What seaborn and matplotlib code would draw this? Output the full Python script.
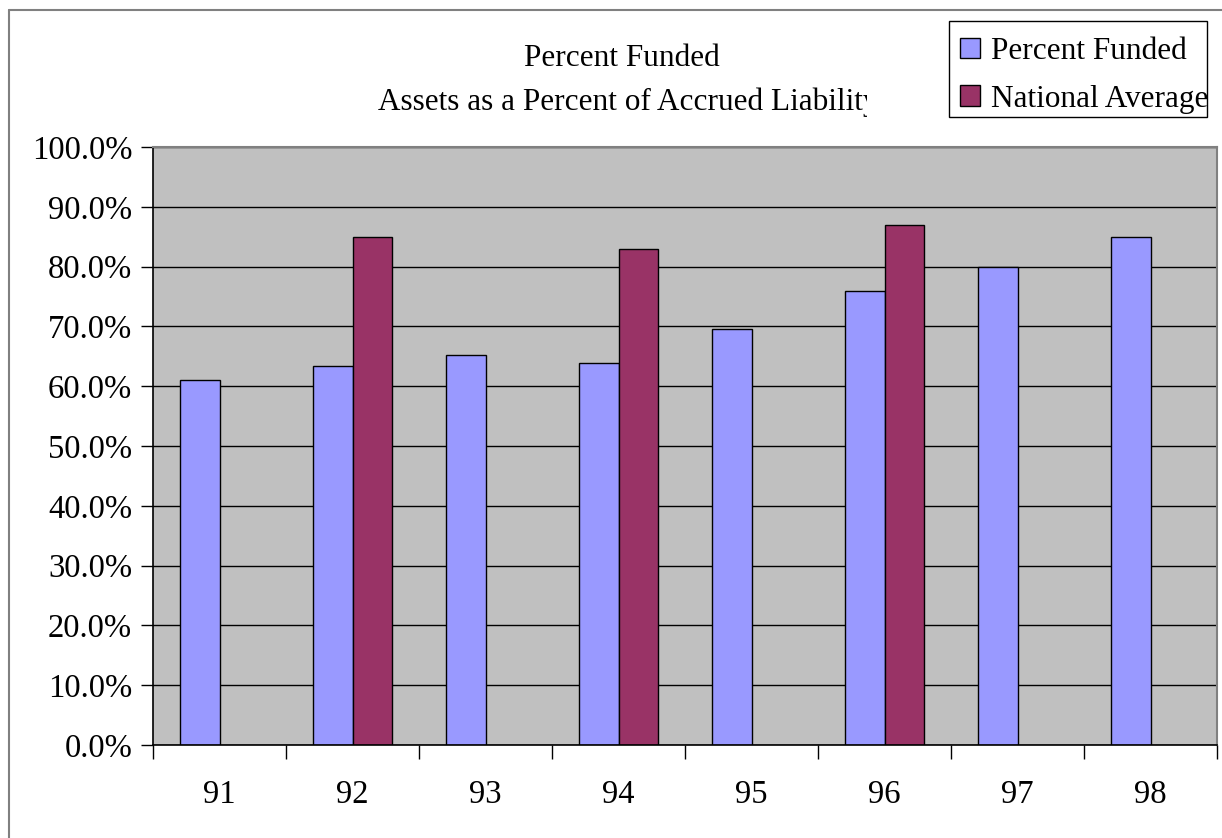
import numpy as np
import pandas as pd
import matplotlib
matplotlib.use("Agg")
import matplotlib.pyplot as plt
import seaborn as sns
from matplotlib.lines import Line2D
from matplotlib.patches import Rectangle
from matplotlib.transforms import Bbox, TransformedBbox
from matplotlib.ticker import FuncFormatter, FixedLocator

years = ["91", "92", "93", "94", "95", "96", "97", "98"]
percent_funded = [61.0, 63.3, 65.3, 63.9, 69.6, 76.0, 80.0, 85.0]
national_average = [None, 85.0, None, 83.0, None, 87.0, None, None]
series_names = ["Percent Funded", "National Average"]
colors = ["#9999FF", "#993366"]
y_ticks = [0, 10, 20, 30, 40, 50, 60, 70, 80, 90, 100]
title_line1 = "Percent Funded"
title_line2 = "Assets as a Percent of Accrued Liability"

rows = []
for y, pf, na in zip(years, percent_funded, national_average):
    rows.append({"year": y, "series": series_names[0], "value": pf})
    if na is not None:
        rows.append({"year": y, "series": series_names[1], "value": na})
df = pd.DataFrame(rows)

sns.set_style("white")
plt.rcParams["font.family"] = ["Liberation Serif", "DejaVu Serif"]
plt.rcParams["text.color"] = "black"
plt.rcParams["xtick.color"] = "black"
plt.rcParams["ytick.color"] = "black"
plt.rcParams["axes.labelcolor"] = "black"

FS = 22.5
TFS = 23.5
W, H = 1222, 838
fig = plt.figure(figsize=(W / 100, H / 100), dpi=100)
ax = fig.add_axes([153 / W, 1 - 745 / H, (1217 - 153) / W, (745 - 147) / H])

sns.barplot(data=df, x="year", y="value", hue="series", order=years,
            hue_order=series_names, palette=colors, width=0.6, dodge=True,
            edgecolor="black", linewidth=1, saturation=1, errorbar=None, ax=ax)

ax.set_facecolor("#C0C0C0")
ax.set_xlim(-0.5, len(years) - 0.5)
ax.set_ylim(0, 100)
ax.set_yticks(y_ticks)
ax.yaxis.set_major_formatter(FuncFormatter(lambda v, p: f"{v:.1f}%"))
ax.yaxis.grid(True, color="black", linewidth=1)
ax.set_axisbelow(True)
ax.set_xlabel("")
ax.set_ylabel("")

ax.tick_params(axis="y", which="major", direction="out", length=9, width=1,
               color="black", labelcolor="black", labelsize=TFS, pad=6, left=True)
ax.tick_params(axis="x", which="major", length=0, labelsize=TFS, pad=25,
               labelcolor="black")
ax.xaxis.set_minor_locator(FixedLocator(np.arange(-0.5, len(years), 1.0)))
ax.tick_params(axis="x", which="minor", direction="out", length=10, width=1,
               color="black", bottom=True)

for side in ["left", "bottom"]:
    ax.spines[side].set_color("black")
    ax.spines[side].set_linewidth(1.2)
for side in ["top", "right"]:
    ax.spines[side].set_color("#808080")
    ax.spines[side].set_linewidth(1.5)

# legend: frame drawn as a separate rectangle, entries without frame
fig.add_artist(Rectangle((949 / W, 1 - 117 / H), (1207 - 949) / W, (117 - 21) / H,
                         transform=fig.transFigure, facecolor="white",
                         edgecolor="black", linewidth=1, zorder=4))
handles, labels = ax.get_legend_handles_labels()
ax.get_legend().remove()
leg = fig.legend(handles, labels, loc="upper left",
                 bbox_to_anchor=(949 / W, 1 - 26 / H), fontsize=FS,
                 frameon=False, handlelength=0.65, handleheight=0.65,
                 handletextpad=0.35, borderpad=0.35, labelspacing=0.6,
                 borderaxespad=0, labelcolor="black")
leg.set_zorder(5)
legend_clip = TransformedBbox(Bbox([[0, 0], [1207 / W, 1]]), fig.transFigure)
for txt in leg.get_texts():
    txt.set_clip_box(legend_clip)
    txt.set_clip_on(True)

# titles
fig.text(622 / W, 1 - 58 / H, title_line1, ha="center", va="center", fontsize=FS)
t2 = fig.text(628 / W, 1 - 102 / H, title_line2, ha="center", va="center", fontsize=FS)
t2.set_clip_box(TransformedBbox(Bbox([[0, 0], [867 / W, 1]]), fig.transFigure))
t2.set_clip_on(True)

# outer chart border
fig.add_artist(Line2D([9 / W, 9 / W], [0, 1 - 10 / H], color="#808080", lw=1.5,
                      transform=fig.transFigure))
fig.add_artist(Line2D([9 / W, 1], [1 - 10 / H, 1 - 10 / H], color="#808080", lw=1.5,
                      transform=fig.transFigure))

fig.savefig("out.png", dpi=100)
